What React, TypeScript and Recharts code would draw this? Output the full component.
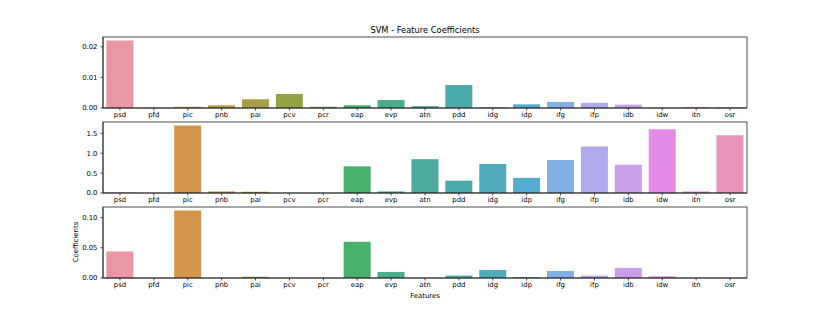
import React from 'react';
import { BarChart, Bar, XAxis, YAxis, Cell } from 'recharts';

const features = ['psd', 'pfd', 'pic', 'pnb', 'pai', 'pcv', 'pcr', 'eap', 'evp', 'atn', 'pdd', 'idg', 'idp', 'ifg', 'ifp', 'idb', 'idw', 'itn', 'osr'];

const coefTop = [0.0221, 0.0001, 0.0004, 0.0009, 0.0029, 0.0046, 0.0004, 0.0009, 0.0026, 0.0006, 0.0075, 0.0002, 0.0012, 0.0020, 0.0017, 0.0011, 0.0001, 0.0003, 0.0002];
const coefMid = [0.01, 0.0, 1.70, 0.04, 0.03, 0.0, 0.0, 0.67, 0.04, 0.85, 0.31, 0.73, 0.38, 0.83, 1.17, 0.71, 1.60, 0.04, 1.45];
const coefBot = [0.0439, 0, 0.1117, 0, 0.002, 0, 0, 0.060, 0.010, 0, 0.004, 0.0133, 0.0015, 0.0117, 0.004, 0.0167, 0.0028, 0, 0];

const ticksTop = [0, 0.01, 0.02];
const ticksMid = [0, 0.5, 1.0, 1.5];
const ticksBot = [0, 0.05, 0.1];

const title = 'SVM - Feature Coefficients';
const xLabel = 'Features';
const yLabel = 'Coefficients';

// ---- HUSL palette (seaborn husl_palette) ----
const M = [
  [3.2406, -1.5372, -0.4986],
  [-0.9689, 1.8758, 0.0415],
  [0.0557, -0.2040, 1.0570],
];
const refY = 1.0, refU = 0.19784, refV = 0.46834, labK = 903.3;

function maxChroma(L: number, H: number) {
  const hrad = (H / 360) * 2 * Math.PI;
  const sinH = Math.sin(hrad), cosH = Math.cos(hrad);
  const sub1 = Math.pow(L + 16, 3) / 1560896;
  const sub2 = sub1 > 0.008856 ? sub1 : L / labK;
  let result = Infinity;
  for (const [m1, m2, m3] of M) {
    const top = (0.99915 * m1 + 1.05122 * m2 + 1.1446 * m3) * sub2;
    const rbottom = 0.8633 * m3 - 0.17266 * m2;
    const lbottom = 0.12949 * m3 - 0.38848 * m1;
    const bottom = (rbottom * sinH + lbottom * cosH) * sub2;
    for (const t of [0, 1]) {
      const C = (L * (top - 1.05122 * t)) / (bottom + 0.17266 * sinH * t);
      if (C > 0 && C < result) result = C;
    }
  }
  return result;
}

function fromLinear(c: number) {
  return c <= 0.0031308 ? 12.92 * c : 1.055 * Math.pow(c, 1 / 2.4) - 0.055;
}

function huslToRgb(h: number, s: number, l: number): number[] {
  let C = 0;
  if (l > 99.9999 || l < 0.00001) C = 0;
  else C = (maxChroma(l, h) / 100) * s;
  const hrad = (h / 360) * 2 * Math.PI;
  const U = Math.cos(hrad) * C, V = Math.sin(hrad) * C;
  if (l === 0) return [0, 0, 0];
  const varY = l > 8 ? refY * Math.pow((l + 16) / 116, 3) : (refY * l) / labK;
  const varU = U / (13 * l) + refU;
  const varV = V / (13 * l) + refV;
  const Y = varY * refY;
  const X = 0 - (9 * Y * varU) / ((varU - 4) * varV - varU * varV);
  const Z = (9 * Y - 15 * varV * Y - varV * X) / (3 * varV);
  return M.map((row) => {
    const v = fromLinear(row[0] * X + row[1] * Y + row[2] * Z);
    return Math.min(1, Math.max(0, v));
  });
}

function desaturate(rgb: number[], prop: number) {
  const mx = Math.max(...rgb), mn = Math.min(...rgb);
  const l = (mx + mn) / 2;
  return rgb.map((c) => l + (c - l) * prop);
}

function toHex(rgb: number[]) {
  return '#' + rgb.map((c) => Math.round(c * 255).toString(16).padStart(2, '0')).join('');
}

function makePalette(n: number) {
  const out: string[] = [];
  for (let i = 0; i < n; i++) {
    let h = i / n + 0.01;
    h = h % 1;
    h *= 359;
    const rgb = huslToRgb(h, 0.9 * 99, 0.7 * 99);
    out.push(toHex(desaturate(rgb, 0.75)));
  }
  return out;
}

const colors = makePalette(features.length);

const FONT = '"DejaVu Sans", "Liberation Sans", sans-serif';
const TICK_FS = 6.9;
const FRAME = '#222';

const CHART_W = 830;
const CHART_H = 101;
const MARGIN = { top: 10, right: 83, bottom: 0, left: 63 };
const Y_AXIS_W = 40;
const X_AXIS_H = 20;
const PANEL_TOPS = [27, 112, 197];

function Panel({ values, top, ticks, decimals }: { values: number[]; top: number; ticks: number[]; decimals: number }) {
  const data = features.map((f, i) => ({ name: f, v: values[i] }));
  return (
    <div style={{ position: 'absolute', left: 0, top }}>
      <BarChart width={CHART_W} height={CHART_H} data={data} margin={MARGIN} barCategoryGap="10%">
        <XAxis
          dataKey="name"
          interval={0}
          height={X_AXIS_H}
          tickSize={2.5}
          tickMargin={2}
          tick={{ fontSize: TICK_FS, fill: '#000', fontFamily: FONT }}
          tickLine={{ stroke: FRAME, strokeWidth: 0.8 }}
          axisLine={{ stroke: FRAME, strokeWidth: 0.8 }}
        />
        <YAxis
          width={Y_AXIS_W}
          domain={[0, (m: number) => m * 1.05]}
          ticks={ticks}
          interval={0}
          tickFormatter={(v: number) => v.toFixed(decimals)}
          tickSize={2.5}
          tickMargin={3}
          tick={{ fontSize: TICK_FS, fill: '#000', fontFamily: FONT }}
          tickLine={{ stroke: FRAME, strokeWidth: 0.8 }}
          axisLine={{ stroke: FRAME, strokeWidth: 0.8 }}
        />
        <Bar dataKey="v" isAnimationActive={false}>
          {data.map((d, i) => (
            <Cell key={d.name} fill={colors[i]} />
          ))}
        </Bar>
      </BarChart>
    </div>
  );
}

export default function App() {
  const plotLeft = MARGIN.left + Y_AXIS_W;
  const plotW = CHART_W - MARGIN.right - plotLeft;
  const plotH = CHART_H - MARGIN.top - MARGIN.bottom - X_AXIS_H;
  return (
    <div
      style={{
        position: 'absolute',
        left: 0,
        top: 0,
        width: 830,
        height: 312,
        background: '#fff',
        fontFamily: FONT,
      }}
    >
      <Panel values={coefTop} top={PANEL_TOPS[0]} ticks={ticksTop} decimals={2} />
      <Panel values={coefMid} top={PANEL_TOPS[1]} ticks={ticksMid} decimals={1} />
      <Panel values={coefBot} top={PANEL_TOPS[2]} ticks={ticksBot} decimals={2} />
      <svg width={830} height={312} style={{ position: 'absolute', left: 0, top: 0, pointerEvents: 'none' }}>
        {PANEL_TOPS.map((t) => (
          <rect
            key={t}
            x={plotLeft}
            y={t + MARGIN.top}
            width={plotW}
            height={plotH}
            fill="none"
            stroke={FRAME}
            strokeWidth={0.8}
          />
        ))}
        <text x={425} y={33} textAnchor="middle" fontSize={8.3} fontFamily={FONT} fill="#000">
          {title}
        </text>
        <text x={425} y={298} textAnchor="middle" fontSize={TICK_FS} fontFamily={FONT} fill="#000">
          {xLabel}
        </text>
        <text transform="translate(78,242) rotate(-90)" textAnchor="middle" fontSize={TICK_FS} fontFamily={FONT} fill="#000">
          {yLabel}
        </text>
      </svg>
    </div>
  );
}
